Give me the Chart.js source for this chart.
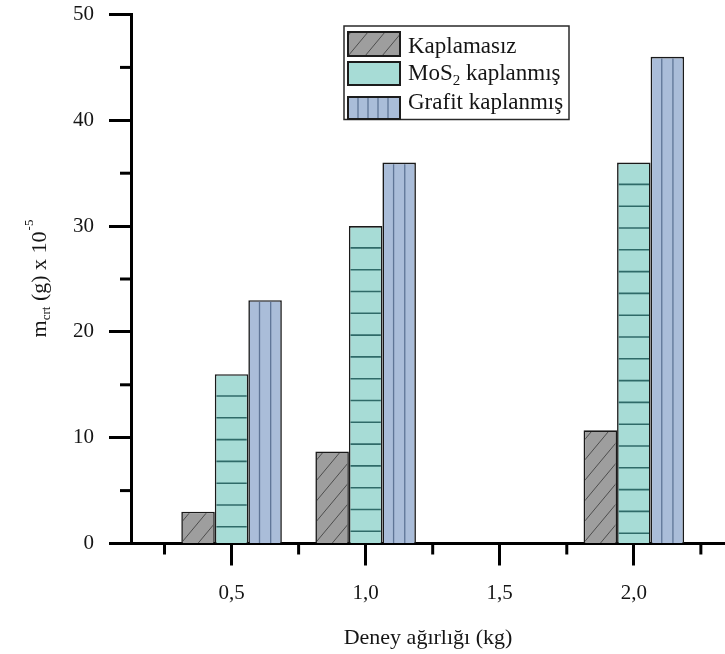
<!DOCTYPE html>
<html><head><meta charset="utf-8">
<script src="https://cdn.jsdelivr.net/npm/chart.js@4/dist/chart.umd.min.js"></script>
<style>html,body{margin:0;padding:0;background:#fff;} canvas{display:block;}</style>
</head><body>
<canvas id="c" width="725" height="654" style="width:725px;height:654px"></canvas>
<script>
// ---- data ----
const categories = [0.5, 1.0, 2.0];
const seriesNames = ['Kaplamasız', 'MoS₂ kaplanmış', 'Grafit kaplanmış'];
const kaplamasizValues = [3.0, 8.7, 10.7];
const mos2Values = [16, 30, 36];
const grafitValues = [23, 36, 46];
const xTickValues = [0.5, 1.0, 1.5, 2.0];
const xTickLabels = ['0,5', '1,0', '1,5', '2,0'];
const xMinorTickValues = [0.25, 0.75, 1.25, 1.75, 2.25];
const yTickValues = [0, 10, 20, 30, 40, 50];
const yTickLabels = ['0', '10', '20', '30', '40', '50'];
const yMinorTickValues = [5, 15, 25, 35, 45];
const xTitle = 'Deney ağırlığı (kg)';
const yTitleMain1 = 'm';
const yTitleSub = 'crt';
const yTitleMain2 = ' (g) x 10';
const yTitleSup = '-5';
const legendRuns = [
  [{t: 'Kaplamasız'}],
  [{t: 'MoS'}, {t: '2', sub: true}, {t: ' kaplanmış'}],
  [{t: 'Grafit kaplanmış'}]
];

// ---- style ----
const SERIF = "'Liberation Serif', 'Times New Roman', serif";
const TXT = '#151515';
const fills = ['#9e9e9e', '#a7dcd6', '#aabdd9'];
const hatchColors = ['#4d4d4d', '#2f6a68', '#5f7596'];
const hatchKinds = ['diag', 'horiz', 'vert'];

function drawHatch(ctx, kind, clip, anchor, color, vertCount, vertStep) {
  ctx.save();
  ctx.beginPath();
  ctx.rect(clip.x, clip.y, clip.w, clip.h);
  ctx.clip();
  ctx.strokeStyle = color;
  if (kind === 'diag') {
    ctx.lineWidth = 1;
    const p = 17, k = 1.2;
    const h = anchor.h;
    const start = -Math.ceil((h / k) / p + 1) * p;
    for (let off = start; off < anchor.w + p; off += p) {
      ctx.beginPath();
      ctx.moveTo(anchor.x + off, anchor.y + h);
      ctx.lineTo(anchor.x + off + h / k, anchor.y);
      ctx.stroke();
    }
  } else if (kind === 'horiz') {
    ctx.lineWidth = 1.6;
    const sp = 21.8;
    for (let yy = anchor.y + sp; yy < anchor.y + anchor.h - 1; yy += sp) {
      ctx.beginPath();
      ctx.moveTo(anchor.x, yy);
      ctx.lineTo(anchor.x + anchor.w, yy);
      ctx.stroke();
    }
  } else if (kind === 'vert') {
    ctx.lineWidth = 1.3;
    if (vertStep) {
      for (let xx = anchor.x + vertStep; xx < anchor.x + anchor.w - 2; xx += vertStep) {
        ctx.beginPath();
        ctx.moveTo(xx, anchor.y);
        ctx.lineTo(xx, anchor.y + anchor.h);
        ctx.stroke();
      }
    } else {
      for (let i = 1; i < vertCount; i++) {
        const xx = anchor.x + anchor.w * i / vertCount;
        ctx.beginPath();
        ctx.moveTo(xx, anchor.y);
        ctx.lineTo(xx, anchor.y + anchor.h);
        ctx.stroke();
      }
    }
  }
  ctx.restore();
}

const hatchPlugin = {
  id: 'hatch',
  afterDatasetsDraw(chart) {
    const ctx = chart.ctx;
    chart.data.datasets.forEach((ds, di) => {
      const meta = chart.getDatasetMeta(di);
      meta.data.forEach(bar => {
        const p = bar.getProps(['x', 'y', 'base', 'width'], true);
        const left = p.x - p.width / 2;
        const top = Math.min(p.y, p.base);
        const h = Math.abs(p.base - p.y);
        const bw = 1.6;
        drawHatch(ctx, hatchKinds[di],
          {x: left + bw, y: top + bw, w: p.width - 2 * bw, h: h - bw},
          {x: left, y: top, w: p.width, h: h},
          hatchColors[di], 3, 0);
      });
    });
  }
};

const minorTickPlugin = {
  id: 'minorTicks',
  afterDraw(chart) {
    const ctx = chart.ctx, xs = chart.scales.x, ys = chart.scales.y, a = chart.chartArea;
    ctx.save();
    ctx.strokeStyle = '#000';
    ctx.lineWidth = 3;
    xMinorTickValues.forEach(v => {
      const px = xs.getPixelForValue(v);
      if (px < a.left || px > a.right) return;
      ctx.beginPath(); ctx.moveTo(px, a.bottom); ctx.lineTo(px, a.bottom + 11); ctx.stroke();
    });
    yMinorTickValues.forEach(v => {
      const py = ys.getPixelForValue(v);
      ctx.beginPath(); ctx.moveTo(a.left - 11, py); ctx.lineTo(a.left, py); ctx.stroke();
    });
    ctx.restore();
  }
};

const yTitlePlugin = {
  id: 'yTitle',
  afterDraw(chart) {
    const ctx = chart.ctx, a = chart.chartArea;
    const big = '22px ' + SERIF, small = '13px ' + SERIF;
    ctx.save();
    ctx.fillStyle = TXT;
    ctx.textBaseline = 'alphabetic';
    ctx.textAlign = 'left';
    ctx.font = big; const w1 = ctx.measureText(yTitleMain1).width;
    ctx.font = small; const w2 = ctx.measureText(yTitleSub).width;
    ctx.font = big; const w3 = ctx.measureText(yTitleMain2).width;
    ctx.font = small; const w4 = ctx.measureText(yTitleSup).width;
    const total = w1 + w2 + w3 + w4;
    ctx.translate(46, (a.top + a.bottom) / 2);
    ctx.rotate(-Math.PI / 2);
    let x = -total / 2;
    ctx.font = big; ctx.fillText(yTitleMain1, x, 0); x += w1;
    ctx.font = small; ctx.fillText(yTitleSub, x, 4); x += w2;
    ctx.font = big; ctx.fillText(yTitleMain2, x, 0); x += w3;
    ctx.font = small; ctx.fillText(yTitleSup, x + 1, -13);
    ctx.restore();
  }
};

const legendPlugin = {
  id: 'boxLegend',
  afterDraw(chart) {
    const ctx = chart.ctx;
    ctx.save();
    ctx.fillStyle = '#fff';
    ctx.fillRect(344, 26, 225, 93.5);
    ctx.strokeStyle = '#2a2a2a';
    ctx.lineWidth = 1.5;
    ctx.strokeRect(344, 26, 225, 93.5);
    const rows = [
      {sy: 32, sh: 24, base: 53},
      {sy: 62, sh: 23, base: 80},
      {sy: 97, sh: 22, base: 109}
    ];
    rows.forEach((r, i) => {
      const sx = 348, sw = 52;
      ctx.fillStyle = fills[i];
      ctx.fillRect(sx, r.sy, sw, r.sh);
      if (i !== 1) {
        drawHatch(ctx, hatchKinds[i], {x: sx, y: r.sy, w: sw, h: r.sh}, {x: sx, y: r.sy, w: sw, h: r.sh}, hatchColors[i], 0, 10);
      }
      ctx.strokeStyle = '#1c1c1c';
      ctx.lineWidth = 2;
      ctx.strokeRect(sx, r.sy, sw, r.sh);
      let x = 408;
      ctx.fillStyle = TXT;
      ctx.textBaseline = 'alphabetic';
      ctx.textAlign = 'left';
      legendRuns[i].forEach(run => {
        ctx.font = (run.sub ? '15px ' : '23px ') + SERIF;
        ctx.fillText(run.t, x, r.base + (run.sub ? 5 : 0));
        x += ctx.measureText(run.t).width;
      });
    });
    ctx.restore();
  }
};

const toPoints = vals => categories.map((c, i) => ({x: c, y: vals[i]}));

new Chart(document.getElementById('c'), {
  type: 'bar',
  data: {
    datasets: [
      {label: seriesNames[0], data: toPoints(kaplamasizValues), backgroundColor: fills[0]},
      {label: seriesNames[1], data: toPoints(mos2Values), backgroundColor: fills[1]},
      {label: seriesNames[2], data: toPoints(grafitValues), backgroundColor: fills[2]}
    ]
  },
  options: {
    responsive: false,
    animation: false,
    devicePixelRatio: 1,
    layout: {padding: {top: 14.5, right: 0, bottom: 0, left: 0}},
    datasets: {
      bar: {
        categoryPercentage: 0.75,
        barPercentage: 1.0,
        borderColor: '#1a1a1a',
        borderWidth: 1.6,
        borderSkipped: 'start'
      }
    },
    plugins: {legend: {display: false}, tooltip: {enabled: false}},
    scales: {
      x: {
        type: 'linear',
        min: 0.125,
        max: 2.34,
        offset: false,
        grid: {offset: false, drawOnChartArea: false, drawTicks: true, tickLength: 22, tickWidth: 3, tickColor: '#000'},
        border: {display: true, width: 3, color: '#000'},
        afterBuildTicks: s => { s.ticks = xTickValues.map(v => ({value: v})); },
        afterFit: s => { s.height = 110.5; s.paddingLeft = 0; s.paddingRight = 0; },
        ticks: {
          autoSkip: false, maxRotation: 0, padding: 15, color: TXT,
          font: {family: SERIF, size: 21},
          callback: v => xTickLabels[xTickValues.indexOf(v)]
        },
        title: {display: true, text: xTitle, color: TXT, font: {family: SERIF, size: 22}, padding: {top: 0, bottom: 3}}
      },
      y: {
        type: 'linear',
        min: 0,
        max: 50,
        grid: {offset: false, drawOnChartArea: false, drawTicks: true, tickLength: 22, tickWidth: 3, tickColor: '#000'},
        border: {display: true, width: 3, color: '#000'},
        afterBuildTicks: s => { s.ticks = yTickValues.map(v => ({value: v})); },
        afterFit: s => { s.width = 131; s.paddingTop = 0; s.paddingBottom = 0; },
        ticks: {
          autoSkip: false, padding: 15, color: TXT,
          font: {family: SERIF, size: 21},
          callback: v => yTickLabels[yTickValues.indexOf(v)]
        }
      }
    }
  },
  plugins: [hatchPlugin, minorTickPlugin, yTitlePlugin, legendPlugin]
});
</script>
</body></html>
